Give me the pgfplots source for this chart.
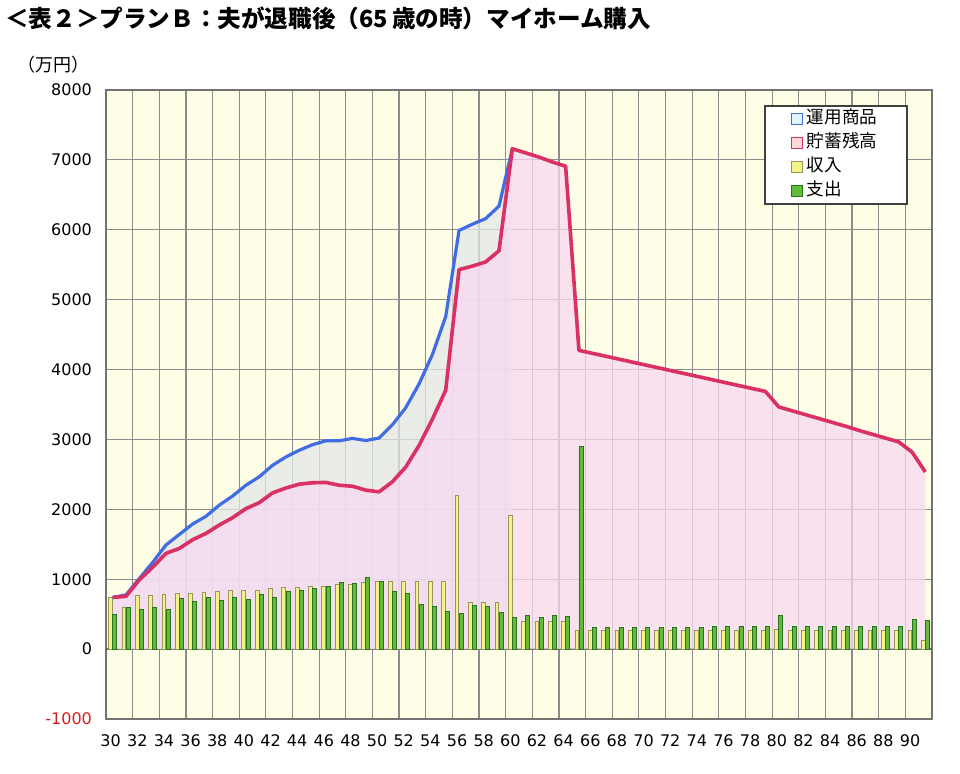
\documentclass[border=0pt]{standalone}
\usepackage{pgfplots}
\usepackage{pgfplotstable}
\pgfplotsset{compat=1.18}
\usepackage{fontspec}
\setmainfont{DejaVu Sans}
\newfontfamily\cjk{Noto Sans CJK JP}
\definecolor{bgy}{RGB}{254,253,230}
\definecolor{pinkfill}{RGB}{249,216,242}
\definecolor{greyfill}{RGB}{226,231,232}
\definecolor{incfill}{RGB}{243,243,135}
\definecolor{incdraw}{RGB}{150,150,95}
\definecolor{expfill}{RGB}{98,188,58}
\definecolor{expdraw}{RGB}{38,115,30}
\definecolor{blueline}{RGB}{66,108,228}
\definecolor{redline}{RGB}{218,48,100}
\definecolor{negred}{RGB}{215,30,30}
\definecolor{gridc}{RGB}{140,140,140}

\pgfplotstableread{
age inc exp red
30 740 500 740
31 600 600 755
32 768 567 990
33 768 591 1170
34 790 567 1370
35 796 720 1440
36 796 677 1565
37 815 744 1655
38 825 701 1775
39 839 744 1880
40 844 715 2010
41 844 777 2095
42 863 734 2235
43 877 825 2305
44 882 834 2360
45 891 872 2380
46 901 901 2385
47 925 960 2345
48 925 939 2330
49 949 1030 2275
50 963 972 2250
51 963 825 2395
52 963 796 2605
53 963 639 2915
54 972 606 3290
55 972 534 3705
56 2202 505 5430
57 662 625 5480
58 662 606 5540
59 662 520 5700
60 1907 448 7160
61 400 477 7100
62 400 453 7040
63 400 477 6970
64 400 462 6910
65 272 2905 4275
66 272 305 4233
67 272 310 4191
68 272 310 4149
69 272 310 4107
70 272 315 4065
71 272 315 4023
72 272 315 3981
73 272 315 3939
74 272 315 3897
75 272 320 3855
76 272 320 3813
77 272 320 3771
78 272 325 3729
79 272 325 3687
80 280 486 3465
81 272 325 3410
82 272 325 3355
83 272 325 3300
84 272 330 3245
85 272 330 3190
86 272 330 3130
87 272 330 3075
88 272 330 3020
89 272 330 2965
90 272 425 2820
91 130 410 2535
}\maindata

\pgfplotstableread{
age blue
30 740
31 775
32 1010
33 1240
34 1490
35 1640
36 1790
37 1900
38 2060
39 2190
40 2345
41 2465
42 2630
43 2750
44 2845
45 2925
46 2980
47 2980
48 3015
49 2985
50 3020
51 3210
52 3455
53 3795
54 4215
55 4760
56 5990
57 6080
58 6160
59 6340
60 7160
}\bluedata

\pgfplotsset{sqlegend/.style={legend image code/.code={\draw[##1,line width=0.5pt] (0pt,-2.7pt) rectangle (5.4pt,2.7pt);}}}

\begin{document}
\begin{tikzpicture}
\path[use as bounding box] (-53pt,-27pt) rectangle (427pt,359.5pt);
\begin{axis}[
  at={(0pt,0pt)}, anchor=south west,
  scale only axis, width=413pt, height=314.5pt,
  xmin=29.5, xmax=91.5, ymin=-1000, ymax=8000,
  axis background/.style={fill=bgy},
  xtick={30,32,...,90},
  minor xtick={31.5,33.5,35.5,37.5,39.5,41.5,43.5,45.5,47.5,49.5,51.5,53.5,55.5,57.5,59.5,61.5,63.5,65.5,67.5,69.5,71.5,73.5,75.5,77.5,79.5,81.5,83.5,85.5,87.5,89.5},
  ytick={-1000,0,...,8000},
  yticklabels={{\textcolor{negred}{-1000}},0,1000,2000,3000,4000,5000,6000,7000,8000},
  xmajorgrids=false, xminorgrids=true, ymajorgrids=true,
  major tick length=0pt, minor tick length=0pt,
  grid style={draw=gridc, line width=0.6pt},
  minor grid style={draw=gridc, line width=0.6pt},
  extra y ticks={0}, extra y tick labels={},
  extra y tick style={grid style={draw=black!60, line width=0.9pt}},
  axis line style={draw=black!55, line width=0.9pt},
  /pgf/number format/assume math mode=true,
  xticklabel style={font=\fontsize{8}{10}\selectfont, yshift=-4.5pt, xshift=-1pt},
  yticklabel style={font=\fontsize{8}{10}\selectfont, xshift=-3.5pt},
  legend style={at={(0.971,0.976)}, anchor=north east, draw=black!75, line width=0.8pt, fill=white,
    font=\cjk\fontsize{8.8}{10}\selectfont, inner xsep=13pt, inner ysep=0.5pt,
    nodes={text height=6.4pt, text depth=1.6pt, inner ysep=2pt}},
  legend cell align=left,
]
\addlegendimage{sqlegend, draw=blueline, fill=cyan!12}
\addlegendentry{運用商品}
\addlegendimage{sqlegend, draw=redline, fill=pink!60}
\addlegendentry{貯蓄残高}
\addlegendimage{sqlegend, draw=incdraw, fill=incfill}
\addlegendentry{収入}
\addlegendimage{sqlegend, draw=expdraw, fill=expfill}
\addlegendentry{支出}

\addplot[draw=none, fill=greyfill, fill opacity=0.75, forget plot] table[x=age,y=blue] {\bluedata} \closedcycle;
\addplot[draw=none, fill=pinkfill, fill opacity=0.75, forget plot] table[x=age,y=red] {\maindata} \closedcycle;

\addplot[ybar, bar width=1.9pt, bar shift=-1.05pt, fill=incfill, draw=incdraw, line width=0.4pt, forget plot] table[x=age,y=inc] {\maindata};
\addplot[ybar, bar width=2pt, bar shift=1.05pt, fill=expfill, draw=expdraw, line width=0.4pt, forget plot] table[x=age,y=exp] {\maindata};

\addplot[draw=blueline, line width=1.6pt, line join=round, forget plot] table[x=age,y=blue] {\bluedata};
\addplot[draw=redline, line width=1.8pt, line join=round, forget plot] table[x=age,y=red] {\maindata};
\end{axis}
\node[anchor=west, font=\cjk\bfseries\fontsize{11.8}{14}\selectfont, inner sep=0pt] at (-50.5pt,350.5pt) {＜表２＞プランＢ：夫が退職後（65\,歳の時）マイホーム購入};
\node[anchor=east, font=\cjk\fontsize{9}{10}\selectfont, inner sep=0pt] at (-8pt,327pt) {（万円）};
\end{tikzpicture}
\end{document}
